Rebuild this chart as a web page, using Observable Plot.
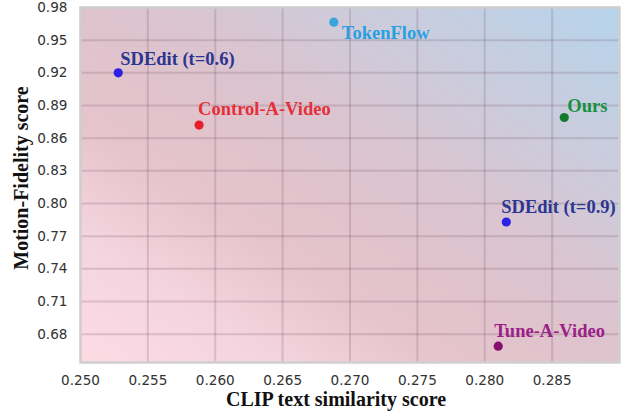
<!DOCTYPE html>
<html>
<head>
<meta charset="utf-8">
<script src="https://cdn.jsdelivr.net/npm/d3@7"></script>
<script src="https://cdn.jsdelivr.net/npm/@observablehq/plot@0.6"></script>
<style>
  html, body { margin: 0; padding: 0; background: #fff; }
</style>
</head>
<body>
<div id="chart"></div>
<script>
// Data
const methods = ["SDEdit (t=0.6)", "Control-A-Video", "TokenFlow", "Ours", "SDEdit (t=0.9)", "Tune-A-Video"];
const clipScores = [0.2528, 0.2588, 0.2688, 0.2859, 0.2816, 0.2810];
const motionScores = [0.920, 0.872, 0.9665, 0.879, 0.783, 0.669];
const xTicks = [0.250, 0.255, 0.260, 0.265, 0.270, 0.275, 0.280, 0.285];
const yTicks = [0.68, 0.71, 0.74, 0.77, 0.80, 0.83, 0.86, 0.89, 0.92, 0.95, 0.98];

const data = methods.map((m, i) => ({method: m, x: clipScores[i], y: motionScores[i]}));

// Styles
const pointColor = {
  "SDEdit (t=0.6)": "#2d1fe3", "Control-A-Video": "#e81e2a", "TokenFlow": "#3ba3dc",
  "Ours": "#137a2e", "SDEdit (t=0.9)": "#2d1fe3", "Tune-A-Video": "#86116e"
};
const labelColor = {
  "SDEdit (t=0.6)": "#2c3690", "Control-A-Video": "#e5303a", "TokenFlow": "#2aa0e0",
  "Ours": "#17903c", "SDEdit (t=0.9)": "#2c3690", "Tune-A-Video": "#9a1f88"
};
const labelOffset = {
  "SDEdit (t=0.6)": [2, -14], "Control-A-Video": [-1, -16], "TokenFlow": [8, 11],
  "Ours": [3, -11], "SDEdit (t=0.9)": [-5, -15], "Tune-A-Video": [-4, -15]
};

const serif = "'Liberation Serif', 'Times New Roman', serif";

const marks = [
  Plot.frame({fill: "url(#bgGrad)"}),
  Plot.gridX(xTicks, {stroke: "#6e4a5c", strokeOpacity: 0.2, strokeWidth: 2}),
  Plot.gridY(yTicks, {stroke: "#6e4a5c", strokeOpacity: 0.2, strokeWidth: 2}),
  Plot.frame({stroke: "#cfcfcf", strokeWidth: 2.5}),
  Plot.axisX(xTicks, {tickSize: 0, tickPadding: 13, tickFormat: d3.format(".3f"), fontSize: 13.6, fill: "#333", label: null}),
  Plot.axisY(yTicks, {tickSize: 0, tickPadding: 13, tickFormat: d3.format(".2f"), fontSize: 13.6, fill: "#333", label: null}),
  Plot.dot(data, {x: "x", y: "y", r: 4.6, fill: d => pointColor[d.method], stroke: null}),
  ...methods.map(m => Plot.text(data.filter(d => d.method === m), {
    x: "x", y: "y", text: "method", textAnchor: "start",
    dx: labelOffset[m][0], dy: labelOffset[m][1],
    fill: labelColor[m], fontFamily: serif, fontWeight: "bold", fontSize: 18.5
  })),
  Plot.text(["CLIP text similarity score"], {
    frameAnchor: "bottom", dy: 43, dx: -14, text: d => d, textAnchor: "middle",
    fontFamily: serif, fontWeight: "bold", fontSize: 20, fill: "#111"
  }),
  Plot.text(["Motion-Fidelity score"], {
    frameAnchor: "left", dx: -59, dy: -7, rotate: -90, text: d => d, textAnchor: "middle",
    fontFamily: serif, fontWeight: "bold", fontSize: 20, fill: "#111"
  })
];

const chart = Plot.plot({
  width: 624,
  height: 416,
  marginLeft: 80,
  marginRight: 5,
  marginTop: 7,
  marginBottom: 54,
  style: {fontFamily: "'DejaVu Sans', sans-serif", background: "#fff", overflow: "visible"},
  x: {domain: [0.250, 0.290]},
  y: {domain: [0.654, 0.980]},
  marks
});

const ns = "http://www.w3.org/2000/svg";
const defs = document.createElementNS(ns, "defs");
const grad = document.createElementNS(ns, "linearGradient");
grad.setAttribute("id", "bgGrad");
grad.setAttribute("x1", "0"); grad.setAttribute("y1", "1");
grad.setAttribute("x2", "1"); grad.setAttribute("y2", "0");
[[0, "#fcdbe5"], [0.18, "#f4d4de"], [0.34, "#e6c4cd"], [0.48, "#dfc3cc"], [0.6, "#d9c5d1"], [0.74, "#cdcbdb"], [1, "#b6d4ec"]].forEach(([o, c]) => {
  const s = document.createElementNS(ns, "stop");
  s.setAttribute("offset", o);
  s.setAttribute("stop-color", c);
  grad.appendChild(s);
});
defs.appendChild(grad);
chart.insertBefore(defs, chart.firstChild);

document.getElementById("chart").appendChild(chart);
</script>
</body>
</html>
